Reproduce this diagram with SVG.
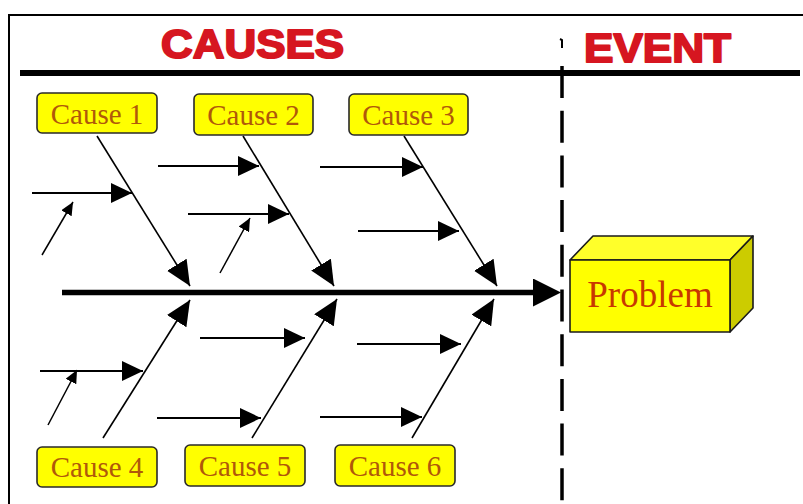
<svg xmlns="http://www.w3.org/2000/svg" width="803" height="504" viewBox="0 0 803 504">
  <style>
    .title { font-family: "Liberation Sans", Arial, sans-serif; font-weight: bold; font-size: 41px; fill: #d61620; stroke: #d61620; stroke-width: 2; stroke-linejoin: round; }
    .cbox { fill: #ffff00; stroke: #2a2a2a; stroke-width: 1.6; }
    .ctext { font-family: "Liberation Serif", "Times New Roman", serif; font-size: 29px; fill: #b0580a; text-anchor: middle; }
    .ptext { font-family: "Liberation Serif", "Times New Roman", serif; font-size: 37px; fill: #c83800; text-anchor: middle; }
    .face { stroke: #1a1a1a; stroke-width: 1.6; stroke-linejoin: round; }
    .bone { stroke: #000; stroke-width: 1.6; fill: none; }
    .sub { stroke: #000; stroke-width: 1.8; fill: none; }
    .diag { stroke: #000; stroke-width: 1.5; fill: none; }
  </style>
  <defs>
    <marker id="headBone" markerUnits="userSpaceOnUse" markerWidth="25" markerHeight="23" refX="25" refY="11.5" orient="auto">
      <path d="M0,0 L25,11.5 L0,23 z" fill="#000"/>
    </marker>
    <marker id="headSub" markerUnits="userSpaceOnUse" markerWidth="21" markerHeight="20" refX="21" refY="10" orient="auto">
      <path d="M0,0 L21,10 L0,20 z" fill="#000"/>
    </marker>
    <marker id="headSmall" markerUnits="userSpaceOnUse" markerWidth="13" markerHeight="12" refX="13" refY="6" orient="auto">
      <path d="M0,0 L13,6 L0,12 z" fill="#000"/>
    </marker>
    <marker id="headSpine" markerUnits="userSpaceOnUse" markerWidth="28" markerHeight="28" refX="0" refY="14" orient="auto">
      <path d="M0,0 L28,14 L0,28 z" fill="#000"/>
    </marker>
  </defs>

  <rect width="803" height="504" fill="#ffffff"/>

  <!-- frame and header rules -->
  <g id="frame">
    <path d="M9,504 L9,15 L803,15" fill="none" stroke="#000" stroke-width="2"/>
    <line x1="20" y1="73" x2="800" y2="73" stroke="#000" stroke-width="6"/>
    <line x1="562" y1="66" x2="562" y2="504" stroke="#000" stroke-width="3.5" stroke-dasharray="32 12.7"/>
    <path d="M560,39 L562,40 L562,48" fill="none" stroke="#000" stroke-width="2"/>
  </g>

  <g id="causes-title">
    <text class="title" x="161" y="58" textLength="183" lengthAdjust="spacingAndGlyphs">CAUSES</text>
  </g>
  <g id="event-title">
    <text class="title" x="584" y="62" textLength="147" lengthAdjust="spacingAndGlyphs">EVENT</text>
  </g>

  <!-- connectors -->
  <g id="connectors">
    <line class="bone" x1="97" y1="136" x2="190" y2="286" marker-end="url(#headBone)"/>
    <line class="bone" x1="243" y1="136" x2="334" y2="286" marker-end="url(#headBone)"/>
    <line class="bone" x1="404" y1="136" x2="497" y2="286" marker-end="url(#headBone)"/>
    <line class="bone" x1="103" y1="438" x2="190" y2="300" marker-end="url(#headBone)"/>
    <line class="bone" x1="252" y1="438" x2="337" y2="299" marker-end="url(#headBone)"/>
    <line class="bone" x1="412" y1="438" x2="494" y2="299" marker-end="url(#headBone)"/>

    <line class="sub" x1="32" y1="193" x2="132" y2="193" marker-end="url(#headSub)"/>
    <line class="sub" x1="158" y1="166" x2="259" y2="166" marker-end="url(#headSub)"/>
    <line class="sub" x1="188" y1="214" x2="289" y2="214" marker-end="url(#headSub)"/>
    <line class="sub" x1="320" y1="167" x2="423" y2="167" marker-end="url(#headSub)"/>
    <line class="sub" x1="358" y1="231" x2="459" y2="231" marker-end="url(#headSub)"/>
    <line class="sub" x1="40" y1="371" x2="143" y2="371" marker-end="url(#headSub)"/>
    <line class="sub" x1="200" y1="338" x2="305" y2="338" marker-end="url(#headSub)"/>
    <line class="sub" x1="157" y1="418" x2="261" y2="418" marker-end="url(#headSub)"/>
    <line class="sub" x1="357" y1="344" x2="461" y2="344" marker-end="url(#headSub)"/>
    <line class="sub" x1="320" y1="417" x2="422" y2="417" marker-end="url(#headSub)"/>

    <line class="diag" x1="42" y1="255" x2="73" y2="202" marker-end="url(#headSmall)"/>
    <line class="diag" x1="220" y1="273" x2="250" y2="218" marker-end="url(#headSmall)"/>
    <line class="diag" x1="48" y1="425" x2="77" y2="370" marker-end="url(#headSmall)"/>

    <line x1="62" y1="292.5" x2="533" y2="292.5" stroke="#000" stroke-width="5.5" marker-end="url(#headSpine)"/>
  </g>

  <!-- cause nodes -->
  <g id="cause1">
    <rect class="cbox" x="37" y="93" width="120" height="40" rx="5"/>
    <text class="ctext" x="97" y="124">Cause 1</text>
  </g>
  <g id="cause2">
    <rect class="cbox" x="194" y="94" width="119" height="41" rx="5"/>
    <text class="ctext" x="253.5" y="125">Cause 2</text>
  </g>
  <g id="cause3">
    <rect class="cbox" x="349" y="94" width="119" height="41" rx="5"/>
    <text class="ctext" x="408.5" y="125">Cause 3</text>
  </g>
  <g id="cause4">
    <rect class="cbox" x="37" y="447" width="120" height="40" rx="5"/>
    <text class="ctext" x="97" y="477">Cause 4</text>
  </g>
  <g id="cause5">
    <rect class="cbox" x="185" y="445" width="120" height="41" rx="5"/>
    <text class="ctext" x="245" y="476">Cause 5</text>
  </g>
  <g id="cause6">
    <rect class="cbox" x="335" y="445" width="120" height="41" rx="5"/>
    <text class="ctext" x="395" y="476">Cause 6</text>
  </g>

  <!-- problem node -->
  <g id="problem">
    <polygon class="face" points="570,260 593,236 753,236 730,260" fill="#ffff2a"/>
    <polygon class="face" points="730,260 753,236 753,308 730,332" fill="#cccc00"/>
    <rect class="face" x="570" y="260" width="160" height="72" fill="#ffff00"/>
    <text class="ptext" x="650" y="307">Problem</text>
  </g>
</svg>
